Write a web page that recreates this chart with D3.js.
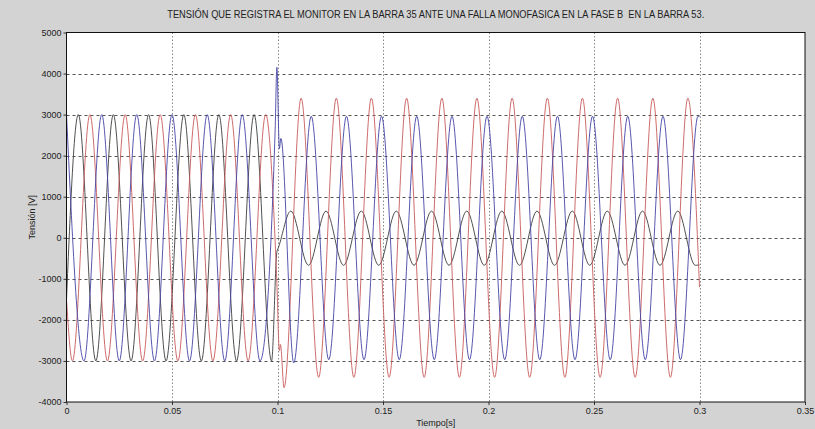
<!DOCTYPE html>
<html>
<head>
<meta charset="utf-8">
<script src="https://cdn.jsdelivr.net/npm/d3@7"></script>
<style>
  html, body { margin: 0; padding: 0; background: #d3d3d3; }
  svg { display: block; }
  text { font-family: "Liberation Sans", Arial, sans-serif; fill: #222; }
</style>
</head>
<body>
<svg id="chart" width="815" height="429"></svg>
<script>
// ---- Data ----
const titulo = "TENSIÓN QUE REGISTRA EL MONITOR EN LA BARRA 35 ANTE UNA FALLA MONOFASICA EN LA FASE B  EN LA BARRA 53.";
const xLabel = "Tiempo[s]";
const yLabel = "Tensión [V]";
const xTicks = [0, 0.05, 0.1, 0.15, 0.2, 0.25, 0.3, 0.35];
const xTickLabels = ["0", "0.05", "0.1", "0.15", "0.2", "0.25", "0.3", "0.35"];
const yTicks = [-4000, -3000, -2000, -1000, 0, 1000, 2000, 3000, 4000, 5000];
const yTickLabels = ["-4000", "-3000", "-2000", "-1000", "0", "1000", "2000", "3000", "4000", "5000"];

// Extrema / key points [t (s), V] of each phase
const faseAzul = [
  [0, 3000], [0.0083, -3000], [0.0167, 3000], [0.0250, -3000], [0.0333, 3000], [0.0417, -3000],
  [0.0500, 3000], [0.0583, -3000], [0.0667, 3000], [0.0750, -3000], [0.0833, 3000], [0.0917, -3000],
  [0.0989, 2650], [0.0997, 4150], [0.1009, 2170], [0.1016, 2420],
  [0.1077, -3050], [0.1160, 2960], [0.1243, -2970], [0.1327, 2960], [0.1410, -2970], [0.1493, 2960],
  [0.1577, -2970], [0.1660, 2960], [0.1743, -2970], [0.1827, 2960], [0.1910, -2970], [0.1993, 2960],
  [0.2077, -2970], [0.2160, 2960], [0.2243, -2970], [0.2327, 2960], [0.2410, -2970], [0.2493, 2960],
  [0.2577, -2970], [0.2660, 2960], [0.2743, -2970], [0.2827, 2960], [0.2910, -2970], [0.2993, 2960],
  [0.3000, 2950]
];
const faseRoja = [
  [0, -1500], [0.0028, -3000], [0.0111, 3000], [0.0194, -3000], [0.0278, 3000], [0.0361, -3000],
  [0.0444, 3000], [0.0528, -3000], [0.0611, 3000], [0.0694, -3000], [0.0778, 3000], [0.0861, -3000],
  [0.0944, 3000], [0.0997, -1100], [0.1009, -2750], [0.1014, -2600],
  [0.1031, -3650], [0.1112, 3400], [0.1195, -3400], [0.1279, 3400], [0.1362, -3400], [0.1445, 3400],
  [0.1529, -3400], [0.1612, 3400], [0.1695, -3400], [0.1779, 3400], [0.1862, -3400], [0.1945, 3400],
  [0.2029, -3400], [0.2112, 3400], [0.2195, -3400], [0.2279, 3400], [0.2362, -3400], [0.2445, 3400],
  [0.2529, -3400], [0.2612, 3400], [0.2695, -3400], [0.2779, 3400], [0.2862, -3400], [0.2945, 3400],
  [0.3000, -1200]
];
const faseNegra = [
  [0, -1500], [0.0056, 3000], [0.0139, -3000], [0.0222, 3000], [0.0306, -3000], [0.0389, 3000],
  [0.0472, -3000], [0.0556, 3000], [0.0639, -3000], [0.0722, 3000], [0.0806, -3000], [0.0889, 3000],
  [0.0972, -3000], [0.0997, -350], [0.1005, -230],
  [0.1063, 650], [0.1147, -670], [0.1230, 650], [0.1313, -670], [0.1397, 650], [0.1480, -670],
  [0.1563, 650], [0.1647, -670], [0.1730, 650], [0.1813, -670], [0.1897, 650], [0.1980, -670],
  [0.2063, 650], [0.2147, -670], [0.2230, 650], [0.2313, -670], [0.2397, 650], [0.2480, -670],
  [0.2563, 650], [0.2647, -670], [0.2730, 650], [0.2813, -670], [0.2897, 650], [0.2980, -670],
  [0.3000, -660]
];

const series = [
  { name: "negra", data: faseNegra, color: "#3c3c3c" },
  { name: "roja", data: faseRoja, color: "#c85a5a" },
  { name: "azul", data: faseAzul, color: "#4444a6" }
];

// ---- Layout ----
const L = 66.5, R = 805, T = 32.5, B = 402;
const svg = d3.select("#chart");

const x = d3.scaleLinear().domain([0, 0.35]).range([L, R]);
const y = d3.scaleLinear().domain([-4000, 5000]).range([B, T]);

// plot background
svg.append("rect").attr("x", L).attr("y", T).attr("width", R - L).attr("height", B - T).attr("fill", "#ffffff");

// grid
const grid = svg.append("g");
grid.selectAll("line.h").data(yTicks.slice(1, -1)).enter().append("line")
  .attr("x1", L).attr("x2", R)
  .attr("y1", d => Math.round(y(d)) + 0.5).attr("y2", d => Math.round(y(d)) + 0.5)
  .attr("stroke", "#555").attr("stroke-width", 1).attr("stroke-dasharray", "3,3");
grid.selectAll("line.v").data(xTicks.slice(1, -1)).enter().append("line")
  .attr("x1", d => Math.round(x(d)) + 0.5).attr("x2", d => Math.round(x(d)) + 0.5)
  .attr("y1", T).attr("y2", B)
  .attr("stroke", "#888").attr("stroke-width", 1).attr("stroke-dasharray", "1.5,2");

// clip
svg.append("clipPath").attr("id", "clip").append("rect")
  .attr("x", L).attr("y", T).attr("width", R - L).attr("height", B - T);

const line = d3.line().x(d => x(d[0])).y(d => y(d[1])).curve(d3.curveMonotoneX);
const lines = svg.append("g").attr("clip-path", "url(#clip)");
lines.selectAll("path").data(series).enter().append("path")
  .attr("d", d => line(d.data))
  .attr("fill", "none").attr("stroke", d => d.color).attr("stroke-width", 0.9);

// axes
const yAxis = d3.axisLeft(y).tickValues(yTicks).tickFormat((d, i) => yTickLabels[i])
  .tickSize(3).tickSizeOuter(0).tickPadding(2);
const gy = svg.append("g").attr("transform", `translate(${L},0)`).call(yAxis);
const xAxis = d3.axisBottom(x).tickValues(xTicks).tickFormat((d, i) => xTickLabels[i])
  .tickSize(3).tickSizeOuter(0).tickPadding(3);
const gx = svg.append("g").attr("transform", `translate(0,${B})`).call(xAxis);
[gx, gy].forEach(g => {
  g.select(".domain").remove();
  g.selectAll("line").attr("stroke", "#333");
  g.selectAll("text").attr("font-size", "9px").attr("fill", "#333")
    .style("font-family", '"Liberation Sans", Arial, sans-serif');
});

// border
svg.append("rect").attr("x", L).attr("y", T).attr("width", R - L).attr("height", B - T)
  .attr("fill", "none").attr("stroke", "#111").attr("stroke-width", 1);

// title
svg.append("text").attr("x", (L + R) / 2).attr("y", 18).attr("text-anchor", "middle")
  .attr("font-size", "10px").attr("fill", "#333").attr("textLength", 537).attr("lengthAdjust", "spacingAndGlyphs")
  .style("white-space", "pre").attr("xml:space", "preserve")
  .text(titulo);

// axis labels
svg.append("text").attr("x", (L + R) / 2).attr("y", 426).attr("text-anchor", "middle")
  .attr("font-size", "9px").attr("fill", "#333").text(xLabel);
svg.append("text").attr("transform", `translate(35,${(T + B) / 2}) rotate(-90)`)
  .attr("text-anchor", "middle").attr("font-size", "9px").attr("fill", "#333").text(yLabel);
</script>
</body>
</html>
